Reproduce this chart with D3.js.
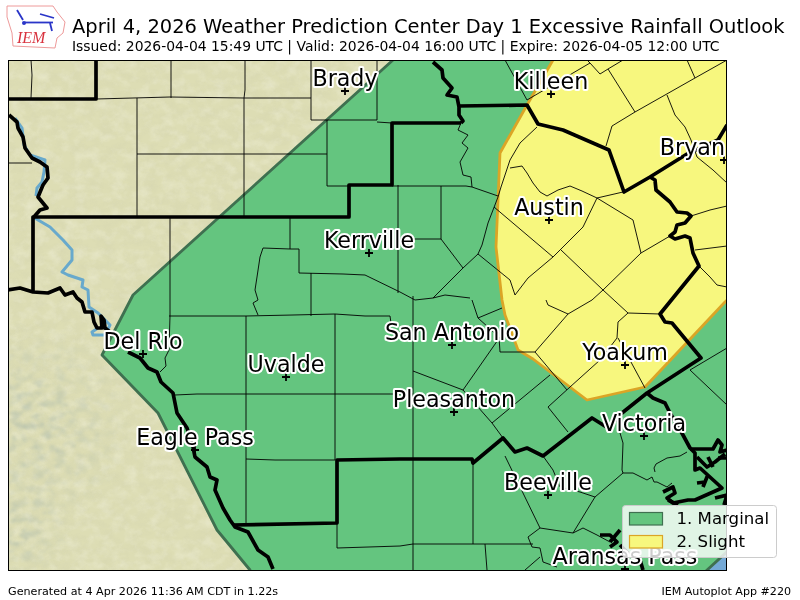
<!DOCTYPE html>
<html><head><meta charset="utf-8">
<style>html,body{margin:0;padding:0;background:#fff}svg{display:block}text{font-family:"DejaVu Sans",sans-serif}</style>
<script src="https://cdn.jsdelivr.net/npm/d3@7/dist/d3.min.js"></script>
</head><body><svg id="c" width="800" height="600"></svg>
<script>
const titleText="April 4, 2026 Weather Prediction Center Day 1 Excessive Rainfall Outlook";
const subtitleText="Issued: 2026-04-04 15:49 UTC | Valid: 2026-04-04 16:00 UTC | Expire: 2026-04-05 12:00 UTC";
const footLeft="Generated at 4 Apr 2026 11:36 AM CDT in 1.22s";
const footRight="IEM Autoplot App #220";
const legendLabels=["1. Marginal","2. Slight"];
// map geometry, in map units
const marginalArea=[[393,60],[133,295],[102,355],[158,413],[217,530],[250,570],[270,620],[695,620],[706,571],[730,549],[760,530],[760,40],[393,40]];
const slightArea=[[553,60],[527,105],[500,153],[496,247],[502,300],[505,315],[518,350],[533,359],[587,400],[645,387],[725,302],[770,260],[770,30],[570,30]];
const waterArea=[[695,585],[695,565],[745,525],[745,585]];
const rivers=[
 [[15,118],[22,128],[24,145],[30,155],[45,160],[44,172],[42,182],[37,188],[36,196]],
 [[33,217],[50,227],[63,240],[72,250],[72,260],[62,272],[68,275],[83,280],[82,287],[88,290],[89,307],[98,313],[110,325],[105,335],[93,335],[92,332],[98,328]]
];
const countyLines=[
 [[31,60],[32,75],[31,98]],[[96,99],[170,97],[244,98],[311,98]],[[171,60],[171,98]],[[245,60],[245,90],[244,98]],
 [[311,60],[311,120],[327,120],[377,120],[377,60]],[[377,122],[392,123]],[[327,120],[327,186],[349,186]],
 [[137,98],[137,216]],[[244,98],[244,216]],[[137,154],[327,154]],[[8,163],[32,163]],
 [[170,218],[170,316],[169,350],[165,358],[166,366],[160,372]],
 [[290,218],[290,249],[263,248],[260,257],[257,277],[255,290],[258,300],[253,303],[258,315]],
 [[290,249],[299,249],[299,273],[343,274],[365,275],[400,292],[415,300]],[[311,273],[311,316]],
 [[169,316],[246,316],[293,315],[335,314],[365,316],[390,316],[391,323]],[[246,316],[246,523]],[[335,314],[335,460]],
 [[175,395],[197,394],[413,394]],[[246,459],[275,460],[335,460]],
 [[337,523],[337,548],[400,546],[413,544],[533,544]],[[413,296],[413,570]],[[485,544],[487,570]],[[473,463],[473,544]],
 [[398,185],[398,293]],[[398,239],[441,239]],
 [[461,123],[458,130],[468,135],[462,143],[468,148],[460,162],[463,175],[471,177],[472,187]],
 [[392,186],[441,186],[466,186],[472,187],[498,196]],[[441,186],[441,239],[463,268],[433,298]],[[478,254],[463,268]],
 [[498,197],[488,223],[482,245],[478,254],[510,280],[515,295]],
 [[505,60],[527,100],[590,63],[600,74],[608,69],[623,60]],[[587,60],[590,63]],[[608,69],[635,112]],
 [[612,126],[635,112],[665,95],[695,78],[727,60]],[[687,60],[695,78]],[[612,126],[606,146]],
 [[537,127],[520,143],[510,160],[501,187],[498,197]],
 [[510,168],[522,166],[527,173],[533,183],[540,192],[547,196],[558,190],[570,186],[582,191],[597,198],[623,192]],
 [[597,198],[633,220],[641,253],[670,236]],[[597,198],[583,227],[560,250],[553,257]],
 [[494,207],[553,257],[528,278],[515,295]],[[561,250],[603,290],[628,313],[660,314]],[[641,253],[603,290],[592,300]],
 [[695,250],[727,246]],[[691,216],[710,210],[727,206]],[[699,266],[710,277],[717,285],[727,287]],
 [[667,95],[675,115],[685,127],[691,140],[697,157],[713,170],[727,183]],
 [[628,313],[618,322],[617,338],[600,360],[570,387],[548,407],[568,432]],[[618,338],[645,388]],
 [[546,300],[548,305],[568,314],[592,300]],[[568,314],[535,352],[500,352],[499,337],[478,318],[502,308]],
 [[535,352],[567,390]],[[550,375],[492,423],[463,390],[413,371]],[[463,390],[500,337]],[[472,300],[478,318]],
 [[415,300],[433,298],[445,295],[470,298]],[[492,423],[503,438]],
 [[505,456],[540,528]],[[543,456],[553,470],[560,487],[580,492],[595,497],[623,473]],
 [[595,497],[573,533],[540,528],[528,537],[532,547],[540,548],[543,562],[557,567]],
 [[620,433],[623,443],[622,470],[623,473]],[[623,473],[633,473],[647,480],[652,477],[654,482],[657,482],[667,487],[672,483]],
 [[655,472],[654,468],[656,464],[667,458],[680,456],[687,452]],[[573,533],[583,528],[597,535],[610,542]],
 [[690,370],[727,405]],[[690,370],[727,348]],[[525,570],[540,557]],[[503,438],[515,452]]
];
const heavyLines=[
 [[8,99],[96,99],[96,60]],
 [[9,115],[17,122],[18,128],[23,137],[25,148],[32,158],[40,162],[47,167],[48,178],[43,185],[38,197],[47,208],[40,210],[33,218]],
 [[33,291],[33,217],[349,217],[349,185],[392,185],[392,123],[461,123]],
 [[433,62],[442,70],[443,78],[452,88],[447,95],[457,97],[459,107],[459,115],[463,121],[461,123]],
 [[459,106],[527,105],[538,124],[563,130],[609,150],[624,192],[650,177],[687,154],[718,140],[727,125]],
 [[650,177],[655,180],[656,190],[670,202],[677,212],[687,213],[691,216],[685,223],[677,225],[675,232],[670,236],[675,239],[685,236],[690,238],[693,253],[699,266],[660,314],[665,322],[672,323],[701,358],[647,393],[622,413],[608,428],[592,418],[543,456],[527,448],[515,452],[503,438],[473,463],[472,459],[400,459],[337,460],[337,523],[233,525]],
 [[8,290],[20,288],[33,292],[48,293],[60,288],[65,295],[73,292],[77,298],[82,302],[85,312],[92,312],[94,322],[97,328],[102,328],[101,316],[104,320],[105,328],[110,332]],
 [[128,352],[140,358],[148,368],[157,372],[161,382],[173,393],[177,413],[187,428],[193,447],[195,457],[207,467],[210,477],[217,480],[215,490],[223,508],[230,520],[235,527],[248,532],[258,550],[268,557],[273,569]],
 [[647,393],[653,398],[665,403],[670,413],[683,435],[690,448],[695,453],[695,470],[700,468],[722,488],[695,500],[688,500],[673,503],[667,498],[675,493],[673,487],[663,492]],
 [[690,449],[713,449],[718,440],[722,445],[720,452],[727,450]],[[697,457],[707,467],[715,462],[725,454]],[[708,457],[713,467]],[[718,458],[727,458]],
 [[697,483],[705,482],[707,477],[703,487]],[[715,498],[727,495],[724,505]],
 [[668,500],[678,505]],[[600,535],[610,535],[617,542],[610,547]],[[610,542],[620,530]],[[640,560],[643,570]],[[620,545],[630,555],[640,556]]
];
const cityNames=["Brady","Killeen","Bryan","Austin","Kerrville","Del Rio","Uvalde","San Antonio","Pleasanton","Eagle Pass","Yoakum","Victoria","Beeville","Aransas Pass"];
const cityX=[345,551,724,549,369,143,286,452,454,195,625,644,548,625];
const cityY=[91,94,160,220,253,354,377,345,412,450,365,436,495,569];
const cityAnchor=["middle","middle","end","middle","middle","middle","middle","middle","middle","middle","middle","middle","middle","middle"];
const logoOutline=[[7,6],[53,6],[57,12],[65,22],[63,33],[57,38],[55,48],[13,46],[12,33],[7,17]];
const logoBlue=[[[25,22.5],[53,22.5]],[[17,10],[23,20]],[[40,14],[54,18]],[[50,23],[52,31]]];

const W=800,H=600,L=8.5,T=60.5,R=726.5,B=570.5;
const x=d3.scaleLinear().domain([8.5,726.5]).range([L,R]);
const y=d3.scaleLinear().domain([60.5,570.5]).range([T,B]);
const ident=d3.scaleLinear().domain([0,100]).range([0,100]);
const line=d3.line().x(d=>x(d[0])).y(d=>y(d[1]));
const svg=d3.select("#c");
const defs=svg.append("defs");
defs.append("clipPath").attr("id","mapclip").append("rect").attr("x",L).attr("y",T).attr("width",R-L).attr("height",B-T);
const f1=defs.append("filter").attr("id","relief").attr("x",0).attr("y",0).attr("width",1).attr("height",1);
f1.append("feTurbulence").attr("type","fractalNoise").attr("baseFrequency","0.07 0.11").attr("numOctaves",3).attr("seed",8);
f1.append("feColorMatrix").attr("type","matrix").attr("values","0 0 0 0 0.62  0 0 0 0 0.62  0 0 0 0 0.42  1.6 0 0 0 -0.62");
f1.append("feGaussianBlur").attr("stdDeviation",.7);
const f3=defs.append("filter").attr("id","relief3").attr("x",0).attr("y",0).attr("width",1).attr("height",1);
f3.append("feTurbulence").attr("type","fractalNoise").attr("baseFrequency","0.08 0.1").attr("numOctaves",3).attr("seed",31);
f3.append("feColorMatrix").attr("type","matrix").attr("values","0 0 0 0 0.96  0 0 0 0 0.96  0 0 0 0 0.85  1.8 0 0 0 -0.72");
f3.append("feGaussianBlur").attr("stdDeviation",.7);
const f2=defs.append("filter").attr("id","relief2").attr("x",0).attr("y",0).attr("width",1).attr("height",1);
f2.append("feTurbulence").attr("type","fractalNoise").attr("baseFrequency","0.09 0.13").attr("numOctaves",4).attr("seed",21);
f2.append("feColorMatrix").attr("type","matrix").attr("values","0 0 0 0 0.45  0 0 0 0 0.52  0 0 0 0 0.42  3.2 0 0 0 -1.4");
f2.append("feGaussianBlur").attr("stdDeviation",.9);
const g2=defs.append("radialGradient").attr("id","mtnfade").attr("gradientUnits","userSpaceOnUse").attr("cx",30).attr("cy",425).attr("r",105);
g2.append("stop").attr("offset","0").attr("stop-color","#ccc");
g2.append("stop").attr("offset","1").attr("stop-color","#000");
const g3=defs.append("radialGradient").attr("id","mtnfade2").attr("gradientUnits","userSpaceOnUse").attr("cx",18).attr("cy",530).attr("r",55);
g3.append("stop").attr("offset","0").attr("stop-color","#ccc");
g3.append("stop").attr("offset","1").attr("stop-color","#000");
const mk=defs.append("mask").attr("id","mtnmask");
mk.append("rect").attr("x",L).attr("y",300).attr("width",200).attr("height",271).attr("fill","url(#mtnfade)");
mk.append("rect").attr("x",L).attr("y",470).attr("width",80).attr("height",101).attr("fill","url(#mtnfade2)").style("mix-blend-mode","screen");

const map=svg.append("g").attr("clip-path","url(#mapclip)");
const mapRect=(flt,op)=>map.append("rect").attr("x",L).attr("y",T).attr("width",R-L).attr("height",B-T).attr("filter",flt).attr("opacity",op);
map.append("rect").attr("x",L).attr("y",T).attr("width",R-L).attr("height",B-T).attr("fill","#ddddb4");
mapRect("url(#relief)",.3);
mapRect("url(#relief3)",.35);
map.append("g").attr("mask","url(#mtnmask)").append("rect").attr("x",L).attr("y",300).attr("width",200).attr("height",271).attr("filter","url(#relief2)").attr("opacity",.95);
map.selectAll(".river").data(rivers).join("path").attr("d",line).attr("fill","none").attr("stroke","#68a9cc").attr("stroke-width",3).attr("stroke-linejoin","round");
map.append("path").attr("d",line(waterArea)+"Z").attr("fill","#74a9d6");
map.append("path").attr("d",line(marginalArea)+"Z").attr("fill","#64c57f").attr("stroke","#3f7050").attr("stroke-width",2.8).attr("stroke-linejoin","round");
map.append("path").attr("d",line(slightArea)+"Z").attr("fill","#f7f77e").attr("stroke","#dba526").attr("stroke-width",2.8).attr("stroke-linejoin","round");
map.selectAll(".county").data(countyLines).join("path").attr("d",line).attr("fill","none").attr("stroke","#000").attr("stroke-width",.9);
map.selectAll(".heavy").data(heavyLines).join("path").attr("d",line).attr("fill","none").attr("stroke","#000").attr("stroke-width",3.7).attr("stroke-linejoin","round");
const cities=cityNames.map((n,i)=>({n,x:cityX[i],y:cityY[i],a:cityAnchor[i]}));
map.selectAll(".plus").data(cities).join("path").attr("d",d=>`M${x(d.x)-4},${y(d.y)}H${x(d.x)+4}M${x(d.x)},${y(d.y)-4}V${y(d.y)+4}`).attr("stroke","#000").attr("stroke-width",1.8);
map.selectAll(".halo").data(cities).join("text").attr("x",d=>d.a==="end"?x(d.x)+1:x(d.x)).attr("y",d=>y(d.y)-5).attr("text-anchor",d=>d.a)
 .attr("font-size",22.2).attr("fill","none").attr("stroke","#fff").attr("stroke-width",4).attr("stroke-linejoin","round").text(d=>d.n);
map.selectAll(".lbl").data(cities).join("text").attr("x",d=>d.a==="end"?x(d.x)+1:x(d.x)).attr("y",d=>y(d.y)-5).attr("text-anchor",d=>d.a)
 .attr("font-size",22.2).attr("fill","#000").text(d=>d.n);
svg.append("rect").attr("x",L).attr("y",T).attr("width",R-L).attr("height",B-T).attr("fill","none").attr("stroke","#000").attr("stroke-width",1);

// legend
const lg=svg.append("g");
lg.append("rect").attr("x",622.5).attr("y",505.5).attr("width",154).attr("height",52).attr("rx",3).attr("fill","#fff").attr("fill-opacity",.8).attr("stroke","#ccc").attr("stroke-width",1);
const legendFill=["#64c57f","#f7f77e"],legendEdge=["#3f7050","#dba526"],legendY=[512.5,535.5];
legendLabels.forEach((t,i)=>{
 lg.append("rect").attr("x",629.5).attr("y",legendY[i]).attr("width",33).attr("height",12.5).attr("fill",legendFill[i]).attr("stroke",legendEdge[i]).attr("stroke-width",1.2);
 lg.append("text").attr("x",676.5).attr("y",legendY[i]+11.5).attr("font-size",16.6).attr("fill","#000").text(t);
});
// header and footer
svg.append("text").attr("x",72).attr("y",32.5).attr("font-size",19.47).attr("fill","#000").text(titleText);
svg.append("text").attr("x",72).attr("y",50.5).attr("font-size",13.9).attr("fill","#000").text(subtitleText);
svg.append("text").attr("x",8).attr("y",595).attr("font-size",11.15).attr("fill","#000").text(footLeft);
svg.append("text").attr("x",791).attr("y",595).attr("font-size",11.1).attr("text-anchor","end").attr("fill","#000").text(footRight);
// logo
const logo=svg.append("g");
logo.append("path").attr("d",d3.line().x(d=>ident(d[0])).y(d=>ident(d[1])).curve(d3.curveLinearClosed)(logoOutline)).attr("fill","#fff").attr("stroke","#ee9a9a").attr("stroke-width",1);
logo.selectAll(".b").data(logoBlue).join("path").attr("d",d3.line().x(d=>ident(d[0])).y(d=>ident(d[1]))).attr("stroke","#2a35c8").attr("stroke-width",1.8).attr("fill","none");
logo.append("circle").attr("cx",ident(24)).attr("cy",ident(23)).attr("r",2).attr("fill","#2a35c8");
logo.append("text").attr("x",17).attr("y",43).attr("font-size",16).attr("font-style","italic").style("font-family","'Liberation Serif',serif").attr("fill","#d9333f").text("IEM");
</script></body></html>
